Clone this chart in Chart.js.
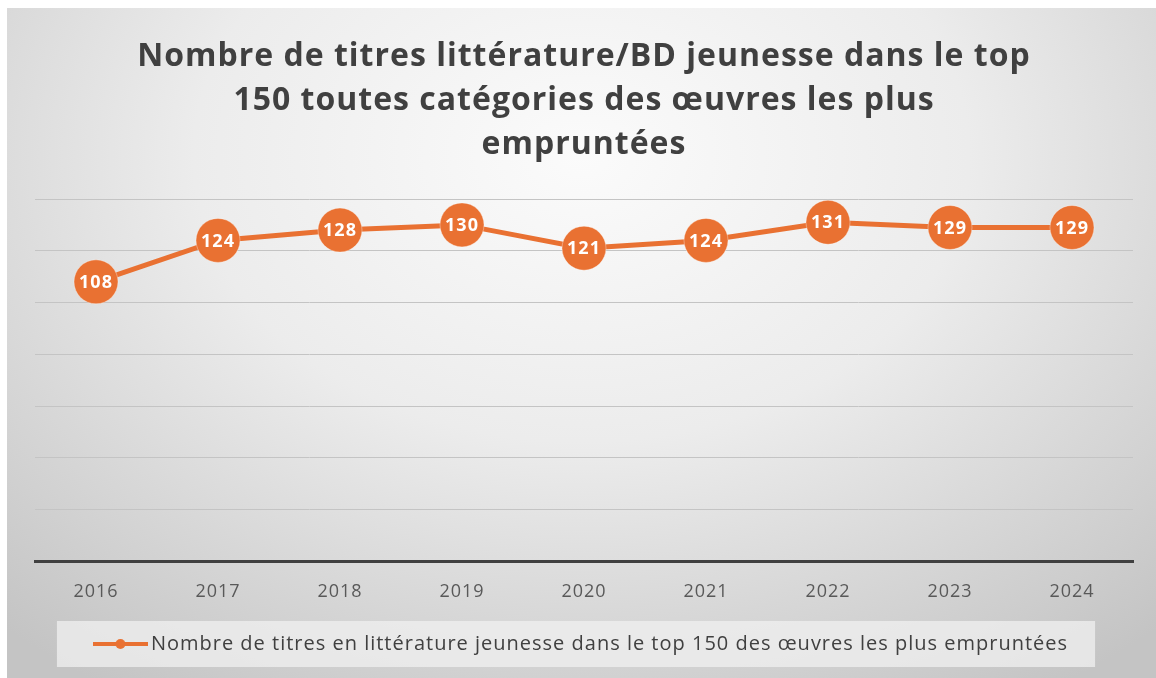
<!DOCTYPE html>
<html>
<head>
<meta charset="utf-8">
<script src="https://cdn.jsdelivr.net/npm/chart.js@4"></script>
<style>
  html, body { margin: 0; padding: 0; background: #fff; }
  #wrap {
    position: absolute; left: 7px; top: 8px; width: 1149px; height: 670px;
    background: radial-gradient(ellipse 75% 95% at 50% 22%, #fbfbfb 0%, #ececec 45%, #d6d6d6 75%, #c4c4c4 100%);
  }
  canvas { display: block; }
</style>
</head>
<body>
<div id="wrap"><canvas id="chart" width="1149" height="670"></canvas></div>
<script>
const years = ['2016', '2017', '2018', '2019', '2020', '2021', '2022', '2023', '2024'];
const titres = [108, 124, 128, 130, 121, 124, 131, 129, 129];
const seriesName = 'Nombre de titres en littérature jeunesse dans le top 150 des œuvres les plus empruntées';
const chartTitle = ['Nombre de titres littérature/BD jeunesse dans le top', '150 toutes catégories des œuvres les plus', 'empruntées'];

const orange = '#E97132';

// legend marker: line with a dot in the middle
const marker = document.createElement('canvas');
marker.width = 55;
marker.height = 14;
const mctx = marker.getContext('2d');
mctx.strokeStyle = orange;
mctx.lineWidth = 4;
mctx.beginPath();
mctx.moveTo(0, 7);
mctx.lineTo(55, 7);
mctx.stroke();
mctx.fillStyle = orange;
mctx.beginPath();
mctx.arc(27.5, 7, 5, 0, Math.PI * 2);
mctx.fill();

// the original text is set a little wider
const spacing = {
    id: 'spacing',
    beforeUpdate(chart) {
        chart.ctx.letterSpacing = '1px';
    }
};

const pointLabels = {
    id: 'pointLabels',
    afterDatasetsDraw(chart) {
        const ctx = chart.ctx;
        const meta = chart.getDatasetMeta(0);
        ctx.save();
        ctx.fillStyle = '#ffffff';
        ctx.font = 'bold 18px "Open Sans"';
        ctx.textAlign = 'center';
        ctx.textBaseline = 'middle';
        meta.data.forEach((pt, i) => {
            ctx.fillText(chart.data.datasets[0].data[i], pt.x, pt.y + 1);
        });
        ctx.restore();
    }
};

const legendBox = {
    id: 'legendBox',
    beforeDraw(chart) {
        const hb = chart.legend.legendHitBoxes[0];
        if (!hb) return;
        const ctx = chart.ctx;
        const cy = hb.top + hb.height / 2;
        ctx.save();
        ctx.fillStyle = 'rgba(240,240,240,0.75)';
        ctx.fillRect(hb.left - 43, cy - 23, hb.width + 70, 46);
        ctx.restore();
    }
};

new Chart(document.getElementById('chart'), {
    type: 'line',
    data: {
        labels: years,
        datasets: [{
            label: seriesName,
            data: titres,
            borderColor: orange,
            backgroundColor: orange,
            borderWidth: 5,
            pointRadius: 22,
            pointHoverRadius: 22,
            pointBackgroundColor: orange,
            pointBorderColor: 'rgba(255,255,255,0.35)',
            pointBorderWidth: 1,
            tension: 0
        }]
    },
    options: {
        responsive: false,
        animation: false,
        layout: { padding: { left: 28, right: 23, top: 0, bottom: 14 } },
        scales: {
            x: {
                offset: true,
                grid: { display: false, drawTicks: false },
                border: { display: true, color: '#404040', width: 3 },
                ticks: { color: '#595959', font: { family: 'Open Sans', size: 18 }, padding: 20 }
            },
            y: {
                min: 0,
                max: 140,
                ticks: { stepSize: 20, display: false },
                grid: { color: '#c4c4c4', lineWidth: 1, drawTicks: false },
                border: { display: false }
            }
        },
        plugins: {
            title: {
                display: true,
                text: chartTitle,
                color: '#404040',
                font: { family: 'Open Sans', size: 32, weight: 'bold', lineHeight: '44px' },
                padding: { top: 27, bottom: 32 }
            },
            legend: {
                position: 'bottom',
                labels: {
                    usePointStyle: true,
                    pointStyle: marker,
                    pointStyleWidth: 41,
                    color: '#404040',
                    font: { family: 'Open Sans', size: 20 },
                    padding: 11
                }
            },
            tooltip: { enabled: false }
        }
    },
    plugins: [spacing, pointLabels, legendBox]
});
</script>
</body>
</html>
